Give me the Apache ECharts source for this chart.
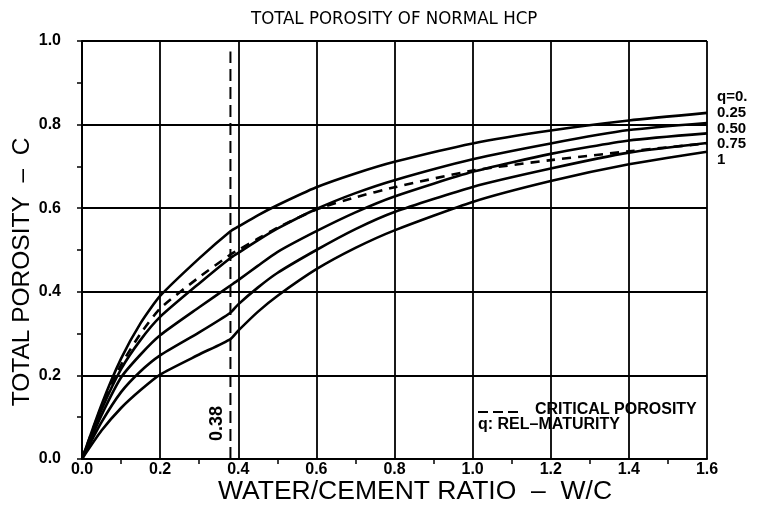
<!DOCTYPE html>
<html>
<head>
<meta charset="utf-8">
<script src="https://cdn.jsdelivr.net/npm/echarts@6/dist/echarts.min.js"></script>
<style>html,body{margin:0;padding:0;background:#fff;}#c{width:759px;height:511px;}</style>
</head>
<body>
<div id="c"></div>
<script>
// Water/cement ratio sample points
const wc = [0, 0.05, 0.1, 0.15, 0.2, 0.3, 0.38, 0.4, 0.45, 0.5, 0.6, 0.7, 0.8, 1.0, 1.2, 1.4, 1.6];
// Total porosity for relative maturity q
const q0   = [0, 0.130, 0.240, 0.325, 0.390, 0.480, 0.545, 0.556, 0.583, 0.607, 0.650, 0.683, 0.711, 0.755, 0.786, 0.810, 0.828];
const q025 = [0, 0.118, 0.215, 0.285, 0.340, 0.420, 0.481, 0.493, 0.523, 0.551, 0.598, 0.636, 0.667, 0.717, 0.755, 0.787, 0.804];
const q050 = [0, 0.105, 0.195, 0.250, 0.296, 0.363, 0.415, 0.428, 0.462, 0.495, 0.545, 0.590, 0.628, 0.687, 0.730, 0.762, 0.779];
const q075 = [0, 0.088, 0.160, 0.210, 0.248, 0.303, 0.350, 0.370, 0.410, 0.445, 0.500, 0.550, 0.591, 0.651, 0.695, 0.733, 0.756];
const q100 = [0, 0.068, 0.122, 0.165, 0.202, 0.250, 0.287, 0.307, 0.352, 0.390, 0.454, 0.505, 0.547, 0.615, 0.665, 0.705, 0.735];
// Critical porosity (dashed)
const critical = [0, 0.125, 0.225, 0.300, 0.360, 0.435, 0.489, 0.500, 0.527, 0.553, 0.597, 0.626, 0.650, 0.690, 0.715, 0.736, 0.755];
// Vertical marker at w/c = 0.38
const markerX = 0.38;
const markerTop = 0.975;
const qLabels = ['q=0.', '0.25', '0.50', '0.75', '1'];

const pair = arr => wc.map((x, i) => [x, arr[i]]);
const solid = (name, arr) => ({
  name, type: 'line', data: pair(arr), showSymbol: false, smooth: 0.2,
  lineStyle: {color: '#000', width: 2.6}, z: 5
});

const chart = echarts.init(document.getElementById('c'), null, {renderer: 'canvas'});
const tickFont = {color: '#000', fontFamily: 'Liberation Sans, Arial, sans-serif', fontWeight: 'bold', fontSize: 16};
const bold15 = 'bold 15px Liberation Sans, Arial, sans-serif';
const option = {
  animation: false,
  backgroundColor: '#fff',
  title: {
    text: 'TOTAL POROSITY OF NORMAL HCP', left: 246, top: 5,
    textStyle: {color: '#000', fontWeight: 'normal', fontSize: 18.5, fontFamily: 'Liberation Sans Narrow, DejaVu Sans Condensed, sans-serif'}
  },
  grid: {left: 82, right: 52, top: 41, bottom: 52},
  xAxis: {
    type: 'value', min: 0, max: 1.6, interval: 0.2,
    axisLine: {show: true, lineStyle: {color: '#000', width: 2}},
    axisTick: {show: false},
    minorTick: {show: true, splitNumber: 2, length: 5, lineStyle: {color: '#000', width: 1.5}},
    splitLine: {show: true, lineStyle: {color: '#000', width: 1.8}},
    axisLabel: Object.assign({margin: 3, formatter: v => v.toFixed(1)}, tickFont)
  },
  yAxis: {
    type: 'value', min: 0, max: 1.0, interval: 0.2,
    axisLine: {show: true, lineStyle: {color: '#000', width: 2}},
    axisTick: {show: true, length: 5, lineStyle: {color: '#000', width: 1.5}},
    minorTick: {show: true, splitNumber: 2, length: 5, lineStyle: {color: '#000', width: 1.5}},
    splitLine: {show: true, lineStyle: {color: '#000', width: 1.8}},
    axisLabel: Object.assign({margin: 21, formatter: v => v.toFixed(1)}, tickFont)
  },
  series: [
    solid('q=0', q0),
    solid('q=0.25', q025),
    solid('q=0.50', q050),
    solid('q=0.75', q075),
    solid('q=1', q100),
    {
      name: 'critical', type: 'line', data: pair(critical), showSymbol: false, smooth: 0.2,
      lineStyle: {color: '#000', width: 2.6, type: [9, 7]}, z: 6
    },
    {
      name: 'marker', type: 'line', data: [[markerX, 0], [markerX, markerTop]], showSymbol: false,
      lineStyle: {color: '#000', width: 2, type: [12, 6]}, z: 4
    }
  ],
  graphic: qLabels.map((t, i) => ({
      type: 'text', x: 717, y: 97 + i * 15.7,
      style: {text: t, fill: '#000', font: bold15, verticalAlign: 'middle'}
    })).concat([
    {type: 'text', x: 415, y: 492,
      style: {text: 'WATER/CEMENT RATIO  –  W/C', fill: '#000', font: '26.5px Liberation Sans, Arial, sans-serif', align: 'center', verticalAlign: 'middle'}},
    {type: 'text', x: 22, y: 272, rotation: Math.PI / 2,
      style: {text: 'TOTAL POROSITY  –  C', fill: '#000', font: '24.5px Liberation Sans, Arial, sans-serif', align: 'center', verticalAlign: 'middle'}},
    {type: 'text', x: 208, y: 441, rotation: Math.PI / 2,
      style: {text: '0.38', fill: '#000', font: 'bold 18px Liberation Sans, Arial, sans-serif', align: 'left', verticalAlign: 'top'}},
    {type: 'line', shape: {x1: 478, y1: 412, x2: 518, y2: 412}, style: {stroke: '#000', lineWidth: 2.2, lineDash: [10, 5]}},
    {type: 'text', x: 535, y: 410, style: {text: 'CRITICAL POROSITY', fill: '#000', font: 'bold 16px Liberation Sans, Arial, sans-serif', verticalAlign: 'middle'}},
    {type: 'text', x: 478, y: 425, style: {text: 'q: REL–MATURITY', fill: '#000', font: 'bold 16px Liberation Sans, Arial, sans-serif', verticalAlign: 'middle'}}
  ])
};
chart.setOption(option);
</script>
</body>
</html>
